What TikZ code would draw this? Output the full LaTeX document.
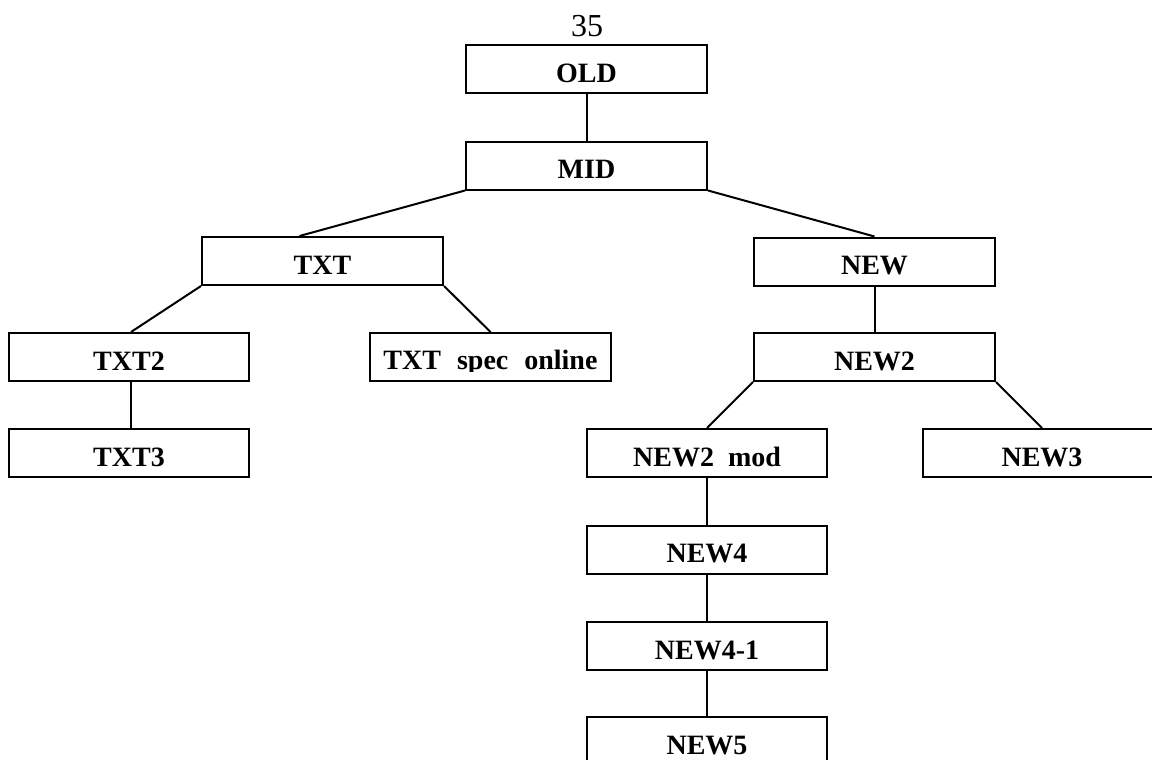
\documentclass[tikz,border=0pt]{standalone}
\usepackage{fontspec}
\setmainfont{Liberation Serif}
\begin{document}
\begin{tikzpicture}[x=1pt,y=-1pt,
  box/.style={draw, line width=2pt, minimum width=241pt, minimum height=48pt, inner sep=0pt,
    font=\bfseries\fontsize{28}{28}\selectfont, text height=27pt, text depth=1pt},
  lbl/.style={font=\bfseries\fontsize{28}{28}\selectfont, inner sep=0pt, anchor=base},
  conn/.style={line width=2pt}]
\useasboundingbox (0,0) rectangle (1152,760);
\node[font=\fontsize{32}{32}\selectfont, inner sep=0pt, anchor=base] (pg) at (587,37) {35};
\node[box] (old) at (586.5,69) {OLD};
\node[box] (mid) at (586.5,165.5) {MID};
\node[box] (txt) at (322.5,261) {TXT};
\node[box] (new) at (874.5,261.5) {NEW};
\node[box, minimum width=240pt] (txt2) at (129,357) {TXT2};
\node[box] (spec) at (490.5,357) {};
\begin{scope}
  \clip (spec.north west) rectangle ([yshift=-39pt]spec.north east);
  \node[lbl] (speclbl) at ([yshift=-37pt]spec.north) {TXT\hspace{16pt}spec\hspace{16pt}online};
\end{scope}
\node[box] (new2) at (874.5,357) {NEW2};
\node[box, minimum width=240pt] (txt3) at (129,453) {TXT3};
\node[box, minimum width=240pt] (nmod) at (707,453) {NEW2\hspace{14pt}mod};
\node[box, minimum width=238pt] (new3) at (1042,453) {NEW3};
\node[box, minimum width=240pt] (new4) at (707,549.5) {NEW4};
\node[box, minimum width=240pt] (new41) at (707,646) {NEW4-1};
\node[box, minimum width=240pt] (new5) at (707,741) {NEW5};
\draw[conn] (old.south) -- (mid.north);
\draw[conn] (mid.south west) -- ([xshift=-23pt]txt.north);
\draw[conn] (mid.south east) -- (new.north);
\draw[conn] (txt.south west) -- ([xshift=2pt]txt2.north);
\draw[conn] (txt.south east) -- (spec.north);
\draw[conn] ([xshift=2pt]txt2.south) -- ([xshift=2pt]txt3.north);
\draw[conn] (new.south) -- (new2.north);
\draw[conn] (new2.south west) -- (nmod.north);
\draw[conn] (new2.south east) -- (new3.north);
\draw[conn] (nmod.south) -- (new4.north);
\draw[conn] (new4.south) -- (new41.north);
\draw[conn] (new41.south) -- (new5.north);
\end{tikzpicture}
\end{document}
